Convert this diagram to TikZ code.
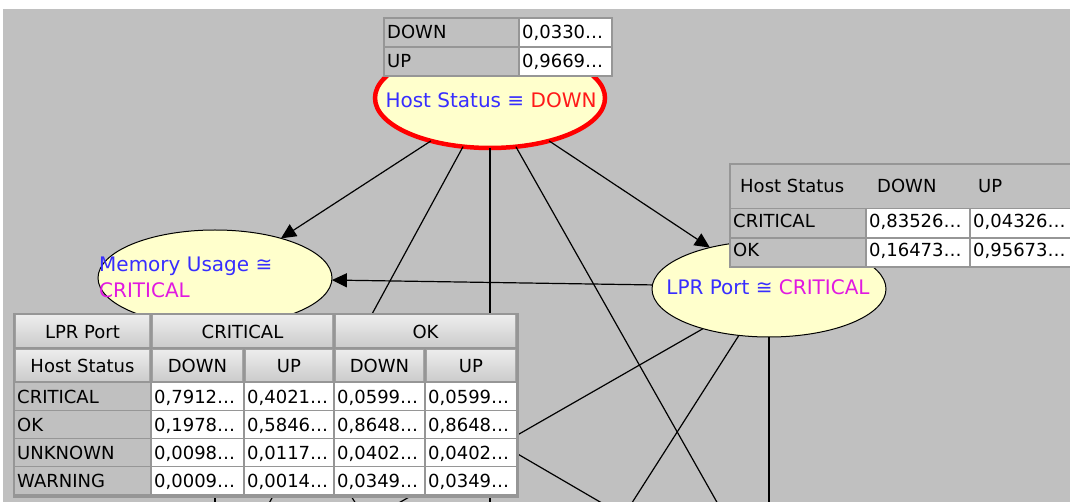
\documentclass[tikz,border=0pt]{standalone}
\usepackage{fontspec}
\setmainfont{DejaVu Sans}
\usetikzlibrary{shapes.geometric,arrows.meta}

\definecolor{paper}{RGB}{255,255,255}
\definecolor{canvasgray}{RGB}{192,192,192}
\definecolor{nodefill}{RGB}{255,255,204}
\definecolor{gridline}{RGB}{150,150,150}
\definecolor{cellgray}{RGB}{192,192,192}
\definecolor{cellwhite}{RGB}{255,255,255}
\definecolor{labelblue}{RGB}{55,45,255}
\definecolor{statered}{RGB}{255,25,25}
\definecolor{statemag}{RGB}{225,25,225}
\definecolor{btntop}{RGB}{236,236,236}
\definecolor{btnbot}{RGB}{205,205,205}
\definecolor{btnedge}{RGB}{160,160,160}

\begin{document}
\begin{tikzpicture}[x=1pt,y=-1pt,
  varnode/.style={ellipse, draw=black, line width=1pt, fill=nodefill, inner sep=0pt, outer sep=0pt},
  evidnode/.style={varnode, draw=red, line width=4.5pt},
  link/.style={line width=1.2pt, draw=black},
  arrowlink/.style={link, -{Triangle[length=15pt,width=14pt]}},
  nodetext/.style={font=\fontsize{20}{26}\selectfont, inner sep=0pt},
  celltext/.style={font=\fontsize{18}{22}\selectfont, inner sep=0pt, anchor=base west},
  headtext/.style={font=\fontsize{18}{22}\selectfont, inner sep=0pt, anchor=base},
]
\useasboundingbox (0,0) rectangle (1070,502);
\clip (0,0) rectangle (1070,502);

% window background
\fill[paper] (0,0) rectangle (1070,502);
\fill[canvasgray] (3,9) rectangle (1070,502);

% variables of the network
\node[evidnode, minimum width=230pt, minimum height=100pt] (host) at (490,98) {};
\node[varnode, minimum width=234pt, minimum height=96pt] (mem) at (215,278) {};
\node[varnode, minimum width=234pt, minimum height=96pt] (lpr) at (769,289) {};

% free ends of links leaving the visible canvas
\coordinate (outA) at (260,520);
\coordinate (outB) at (490,520);
\coordinate (outC) at (727,520);
\coordinate (outD) at (369,520);
\coordinate (outE) at (621,520);
\coordinate (outF) at (769,520);
\coordinate (outG) at (631,520);
\coordinate (outH) at (215,520);
\coordinate (outI) at (366,520);

% links
\draw[arrowlink] (host.216.9) -- (mem.31.5);
\draw[arrowlink] (host.324.6) -- (lpr.145.7);
\draw[arrowlink] (lpr.178) -- (mem.359);
\draw[link] (host.241.1) -- (outA);
\draw[link] (host.270) -- (outB);
\draw[link] (host.298.9) -- (outC);
\draw[link] (lpr.211.3) -- (outD);
\draw[link] (lpr.237.1) -- (outE);
\draw[link] (lpr.270) -- (outF);
\draw[link] (mem.330) -- (outG);
\draw[link] (mem.270) -- (outH);
\draw[link] (mem.302) -- (outI);

% node captions
\node[nodetext, anchor=base] (hostlbl) at (491,108)
  {{\color{labelblue}Host Status ≡ }{\color{statered}DOWN}};
\node[nodetext, anchor=base] (lprlbl) at (768,295)
  {{\color{labelblue}LPR Port ≅ }{\color{statemag}CRITICAL}};
\node[nodetext, anchor=base west, text=labelblue] (memlbl) at (99,272) {Memory Usage ≅};
\node[nodetext, anchor=base west, text=statemag] (memstate) at (99,298) {CRITICAL};

% Host Status table
\fill[gridline] (383,17) rectangle (613,77);
\fill[cellgray] (385,19) rectangle (518,46);
\fill[cellwhite] (520,19) rectangle (611,46);
\fill[cellgray] (385,48) rectangle (518,75);
\fill[cellwhite] (520,48) rectangle (611,75);
\node[celltext] (hs1) at (387,39) {DOWN};
\node[celltext] (hs2) at (522,39) {0,0330…};
\node[celltext] (hs3) at (387,68) {UP};
\node[celltext] (hs4) at (522,68) {0,9669…};

% LPR Port table
\fill[gridline] (729,163) rectangle (1075,268);
\fill[cellgray] (731,165) rectangle (1075,208);
\node[celltext] (lp0) at (740,193) {Host Status};
\node[celltext] (lp1) at (877,193) {DOWN};
\node[celltext] (lp2) at (978,193) {UP};
\fill[cellgray] (731,209) rectangle (865,237);
\fill[cellwhite] (867,209) rectangle (969,237);
\fill[cellwhite] (971,209) rectangle (1075,237);
\fill[cellgray] (731,239) rectangle (865,266);
\fill[cellwhite] (867,239) rectangle (969,266);
\fill[cellwhite] (971,239) rectangle (1075,266);
\node[celltext] (lp3) at (733,228) {CRITICAL};
\node[celltext] (lp4) at (869,228) {0,83526…};
\node[celltext] (lp5) at (973,228) {0,04326…};
\node[celltext] (lp6) at (733,257) {OK};
\node[celltext] (lp7) at (869,257) {0,16473…};
\node[celltext] (lp8) at (973,257) {0,95673…};

% Memory Usage table
\fill[gridline] (13,313) rectangle (519,498);
\foreach \xa/\xb/\txt/\nm in {15/150/LPR Port/mh1, 152/333/CRITICAL/mh2, 335/516/OK/mh3} {
  \fill[btnedge] (\xa,315) rectangle (\xb,347);
  \shade[top color=btntop, bottom color=btnbot] (\xa+1,316) rectangle (\xb-1,346);
  \node[headtext] (\nm) at ({(\xa+\xb)/2},338) {\txt};
}
\foreach \xa/\xb/\txt/\nm in {15/150/Host Status/mg1, 152/243/DOWN/mg2, 245/333/UP/mg3, 335/424/DOWN/mg4, 426/516/UP/mg5} {
  \fill[btnedge] (\xa,349) rectangle (\xb,381);
  \shade[top color=btntop, bottom color=btnbot] (\xa+1,350) rectangle (\xb-1,380);
  \node[headtext] (\nm) at ({(\xa+\xb)/2},372) {\txt};
}
\foreach \lab/\va/\vb/\vc/\vd [count=\r from 0] in {%
  CRITICAL/{0,7912…}/{0,4021…}/{0,0599…}/{0,0599…},%
  OK/{0,1978…}/{0,5846…}/{0,8648…}/{0,8648…},%
  UNKNOWN/{0,0098…}/{0,0117…}/{0,0402…}/{0,0402…},%
  WARNING/{0,0009…}/{0,0014…}/{0,0349…}/{0,0349…}} {
  \pgfmathsetmacro\ytop{383+28*\r}
  \fill[cellgray] (15,\ytop) rectangle (150,\ytop+27);
  \fill[cellwhite] (152,\ytop) rectangle (243,\ytop+27);
  \fill[cellwhite] (245,\ytop) rectangle (333,\ytop+27);
  \fill[cellwhite] (335,\ytop) rectangle (424,\ytop+27);
  \fill[cellwhite] (426,\ytop) rectangle (516,\ytop+27);
  \node[celltext] (mr\r a) at (17,\ytop+20) {\lab};
  \node[celltext] (mr\r b) at (154,\ytop+20) {\va};
  \node[celltext] (mr\r c) at (247,\ytop+20) {\vb};
  \node[celltext] (mr\r d) at (337,\ytop+20) {\vc};
  \node[celltext] (mr\r e) at (428,\ytop+20) {\vd};
}
\end{tikzpicture}
\end{document}
